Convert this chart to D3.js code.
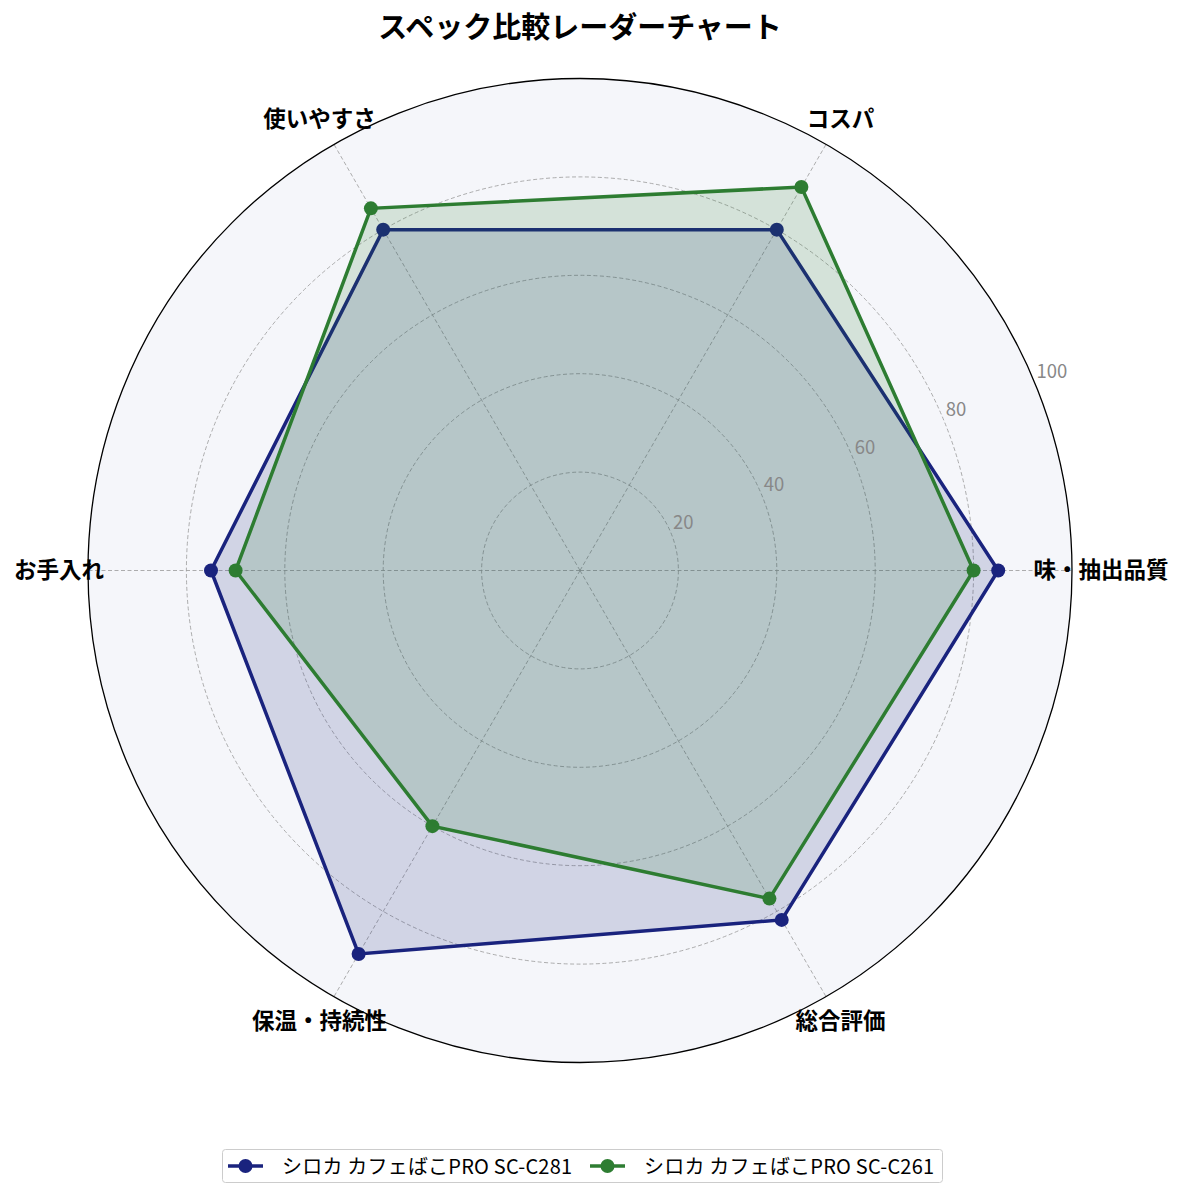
<!DOCTYPE html>
<html>
<head>
<meta charset="utf-8">
<script src="https://cdn.jsdelivr.net/npm/d3@7"></script>
<style>
  body { margin: 0; background: #fff; }
  svg { display: block; font-family: "Noto Sans CJK JP", "Noto Sans", sans-serif; }
</style>
</head>
<body>
<div id="chart"></div>
<script>
// categories (counter-clockwise from the right)
const categories = ["味・抽出品質", "コスパ", "使いやすさ", "お手入れ", "保温・持続性", "総合評価"];
const seriesNames = ["シロカ カフェばこPRO SC-C281", "シロカ カフェばこPRO SC-C261"];
const valuesC281 = [85, 80, 80, 75, 90, 82];
const valuesC261 = [80, 90, 85, 70, 60, 77];
const seriesColors = ["#1a237e", "#2e7d32"];
const radialTicks = [20, 40, 60, 80, 100];

const width = 1185, height = 1198;
const cx = 580, cy = 570.5, outerR = 492;

const svg = d3.select("#chart").append("svg")
  .attr("width", width)
  .attr("height", height);

// title
svg.append("text")
  .attr("x", cx)
  .attr("y", 38)
  .attr("text-anchor", "middle")
  .attr("font-size", 29)
  .attr("font-weight", "bold")
  .text("スペック比較レーダーチャート");

const g = svg.append("g").attr("transform", `translate(${cx},${cy})`);

const rScale = d3.scaleLinear().domain([0, 100]).range([0, outerR]);
// math angle (ccw from east) for each category
const theta = d3.scaleLinear().domain([0, categories.length]).range([0, 2 * Math.PI]);
const px = (i, v) => rScale(v) * Math.cos(theta(i));
const py = (i, v) => -rScale(v) * Math.sin(theta(i));

// background disc
g.append("circle").attr("r", outerR).attr("fill", "#f5f6fa");

// grid circles
g.selectAll(".grid-circle")
  .data(radialTicks.filter((t) => t < 100))
  .enter()
  .append("circle")
  .attr("class", "grid-circle")
  .attr("r", (d) => rScale(d))
  .attr("fill", "none")
  .attr("stroke", "#999")
  .attr("stroke-width", 0.8)
  .attr("stroke-dasharray", "4,2.5");

// spokes
g.selectAll(".spoke")
  .data(categories)
  .enter()
  .append("line")
  .attr("class", "spoke")
  .attr("x1", 0).attr("y1", 0)
  .attr("x2", (d, i) => px(i, 100))
  .attr("y2", (d, i) => py(i, 100))
  .attr("stroke", "#999")
  .attr("stroke-width", 0.8)
  .attr("stroke-dasharray", "4,2.5");

// series
const line = d3.lineRadial()
  .angle((d, i) => Math.PI / 2 - theta(i))
  .radius((d) => rScale(d))
  .curve(d3.curveLinearClosed);

const allSeries = [valuesC281, valuesC261];
allSeries.forEach((vals, s) => {
  const color = seriesColors[s];
  g.append("path")
    .attr("d", line(vals))
    .attr("fill", "none")
    .attr("stroke", color)
    .attr("stroke-width", 3.5)
    .attr("stroke-linejoin", "miter");
  g.selectAll(".dot-" + s)
    .data(vals)
    .enter()
    .append("circle")
    .attr("class", "dot-" + s)
    .attr("cx", (d, i) => px(i, d))
    .attr("cy", (d, i) => py(i, d))
    .attr("r", 7)
    .attr("fill", color);
  g.append("path")
    .attr("d", line(vals))
    .attr("fill", color)
    .attr("fill-opacity", 0.16)
    .attr("stroke", "none");
});

// outer spine
g.append("circle")
  .attr("r", outerR)
  .attr("fill", "none")
  .attr("stroke", "#000")
  .attr("stroke-width", 1.3);

// radial tick labels at 22.5 deg
const labelAngle = Math.PI / 8;
g.selectAll(".r-label")
  .data(radialTicks)
  .enter()
  .append("text")
  .attr("class", "r-label")
  .attr("x", (d) => rScale(d) * Math.cos(labelAngle) + 2)
  .attr("y", (d) => -rScale(d) * Math.sin(labelAngle) - 4)
  .attr("font-size", 18.5)
  .attr("fill", "#888")
  .text((d) => d);

// category labels
const labelR = 521;
g.selectAll(".cat-label")
  .data(categories)
  .enter()
  .append("text")
  .attr("class", "cat-label")
  .attr("x", (d, i) => labelR * Math.cos(theta(i)))
  .attr("y", (d, i) => -labelR * Math.sin(theta(i)) - 2.5)
  .attr("text-anchor", "middle")
  .attr("dominant-baseline", "central")
  .attr("font-size", 22.5)
  .attr("font-weight", "bold")
  .text((d) => d);

// legend
const legend = svg.append("g");
legend.append("rect")
  .attr("x", 222.5).attr("y", 1149.5)
  .attr("width", 720).attr("height", 33)
  .attr("rx", 3)
  .attr("fill", "#fff")
  .attr("stroke", "#ccc");
const legendX = [228, 590];
seriesNames.forEach((name, s) => {
  const x0 = legendX[s];
  legend.append("line")
    .attr("x1", x0).attr("x2", x0 + 35)
    .attr("y1", 1166).attr("y2", 1166)
    .attr("stroke", seriesColors[s])
    .attr("stroke-width", 3.5);
  legend.append("circle")
    .attr("cx", x0 + 17.5).attr("cy", 1166)
    .attr("r", 7)
    .attr("fill", seriesColors[s]);
  legend.append("text")
    .attr("x", x0 + 54)
    .attr("y", 1165)
    .attr("dominant-baseline", "central")
    .attr("font-size", 20)
    .attr("letter-spacing", 0.2)
    .attr("fill", "#000")
    .text(name);
});
</script>
</body>
</html>
